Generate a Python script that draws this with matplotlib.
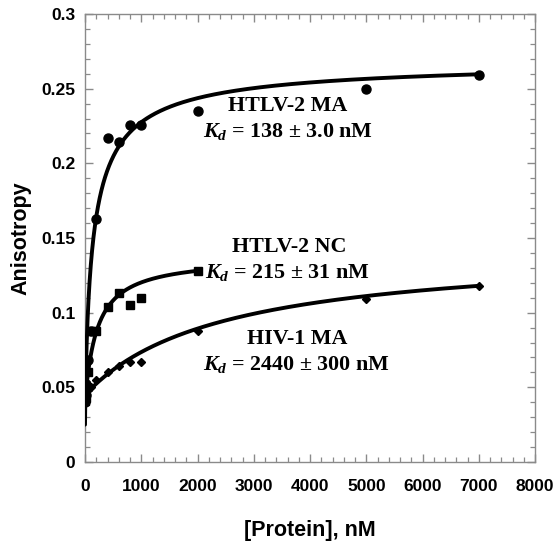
import numpy as np
import matplotlib
matplotlib.use("Agg")
import matplotlib.pyplot as plt
from matplotlib.ticker import MultipleLocator, FixedLocator

plt.rcParams['mathtext.fontset'] = 'custom'
plt.rcParams['mathtext.rm'] = 'Liberation Serif:bold'
plt.rcParams['mathtext.it'] = 'Liberation Serif:bold:italic'
plt.rcParams['mathtext.bf'] = 'Liberation Serif:bold'

# ---- data ----
ma_x = [0, 10, 25, 50, 100, 200, 400, 600, 800, 1000, 2000, 5000, 7000]
ma_y = [0.040, 0.045, 0.052, 0.068, 0.088, 0.163, 0.217, 0.214, 0.226, 0.226, 0.235, 0.250, 0.259]

nc_x = [0, 10, 25, 50, 100, 200, 400, 600, 800, 1000, 2000]
nc_y = [0.041, 0.043, 0.050, 0.060, 0.088, 0.088, 0.104, 0.113, 0.105, 0.110, 0.128]

hiv_x = [0, 10, 25, 50, 100, 200, 400, 600, 800, 1000, 2000, 5000, 7000]
hiv_y = [0.040, 0.042, 0.045, 0.048, 0.050, 0.055, 0.060, 0.064, 0.067, 0.067, 0.088, 0.109, 0.118]

# fit parameters: (Kd, r_free, r_amplitude, hill n, x_max of fit line)
ma_fit = (142, 0.025, 0.245, 0.8, 7000)
nc_fit = (215, 0.040, 0.0975, 1.0, 2000)
hiv_fit = (2440, 0.045, 0.0984, 1.0, 7000)

labels = ["HTLV-2 MA", "HTLV-2 NC", "HIV-1 MA"]
kd_labels = [r"$K_d$ = 138 ± 3.0 nM", r"$K_d$ = 215 ± 31 nM", r"$K_d$ = 2440 ± 300 nM"]

xticks = [0, 1000, 2000, 3000, 4000, 5000, 6000, 7000, 8000]
yticks = [0, 0.05, 0.1, 0.15, 0.2, 0.25, 0.3]
ytick_labels = ["0", "0.05", "0.1", "0.15", "0.2", "0.25", "0.3"]

fig = plt.figure(figsize=(5.54, 5.43), dpi=100)
ax = fig.add_axes([85/554, 1-462/543, 450/554, 448/543])

def fit_curve(p):
    kd, r0, a, n, xm = p
    xs = np.linspace(0, xm, 4000)
    return xs, r0 + a * xs**n / (kd**n + xs**n)

for p in (ma_fit, nc_fit, hiv_fit):
    xs, ys = fit_curve(p)
    ax.plot(xs, ys, color='black', lw=2.8, solid_capstyle='round', zorder=3)

ax.plot(ma_x, ma_y, 'o', color='black', ms=6.5, zorder=4)
ax.plot(nc_x, nc_y, 's', color='black', ms=6, zorder=4)
ax.plot(hiv_x, hiv_y, 'D', color='black', ms=4, zorder=4)

ax.set_xlim(0, 8000)
ax.set_ylim(0, 0.3)
ax.xaxis.set_major_locator(FixedLocator(xticks))
ax.yaxis.set_major_locator(FixedLocator(yticks))
ax.xaxis.set_minor_locator(MultipleLocator(200))
ax.yaxis.set_minor_locator(MultipleLocator(0.01))
ax.set_xticklabels([str(t) for t in xticks])
ax.set_yticklabels(ytick_labels)

gray = '#8a8a8a'
for s in ax.spines.values():
    s.set_color(gray)
    s.set_linewidth(1.0)
ax.tick_params(which='both', direction='in', top=True, right=True, color=gray)
ax.tick_params(which='major', length=6, width=1.0, labelsize=12.5)
ax.tick_params(axis='x', which='major', pad=12)
ax.tick_params(axis='y', which='major', pad=7)
ax.tick_params(which='minor', length=3.5, width=0.9)
for lab in ax.get_xticklabels() + ax.get_yticklabels():
    lab.set_fontweight('bold')
    lab.set_fontfamily('Liberation Sans')

ax.set_xlabel("[Protein], nM", fontsize=15.5, fontweight='bold', family='Liberation Sans', labelpad=19)
ax.set_ylabel("Anisotropy", fontsize=15.5, fontweight='bold', family='Liberation Sans', labelpad=7)

tkw = dict(fontsize=15.8, fontweight='bold', family='Liberation Serif', ha='center', va='center')
ax.text(3609, 0.2387, labels[0], **tkw)
ax.text(3609, 0.2213, kd_labels[0], **tkw)
ax.text(3627, 0.1440, labels[1], **tkw)
ax.text(3591, 0.1272, kd_labels[1], **tkw)
ax.text(3769, 0.0824, labels[2], **tkw)
ax.text(3751, 0.0656, kd_labels[2], **tkw)

fig.savefig("out.png", dpi=100)
